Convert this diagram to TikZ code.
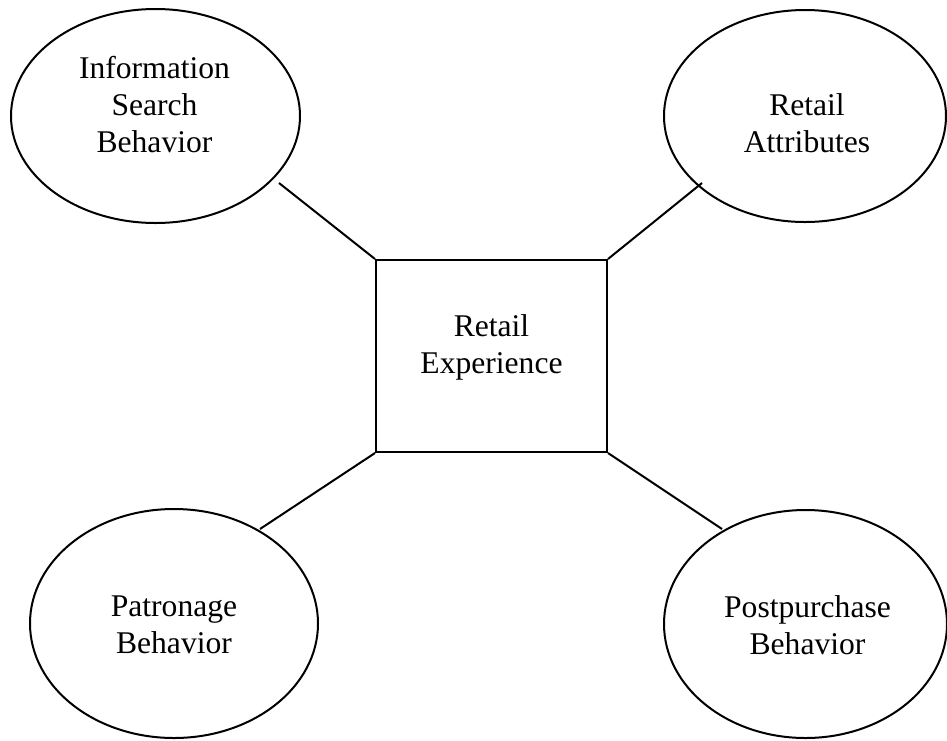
\documentclass[tikz,border=0pt]{standalone}
\usepackage{fontspec}
\setmainfont{Liberation Serif}
\usepackage{tikz}
\usetikzlibrary{shapes.geometric}
\tikzset{
  nodeoval/.style={draw, ellipse, line width=1pt, inner sep=0pt},
  nodebox/.style={draw, rectangle, line width=1pt, inner sep=0pt,
    minimum width=115.5pt, minimum height=96pt},
  nodetxt/.style={align=center, inner sep=0pt,
    font=\fontsize{15.8}{18.5}\selectfont},
  edgeln/.style={black, line width=1pt}
}

\begin{document}
\begin{tikzpicture}[x=0.5pt, y=-0.5pt]
\useasboundingbox (0,0) rectangle (947,740);
% shapes
\node[nodebox] (rex) at (491.5,356) {};
\node[nodeoval, minimum width=144.5pt, minimum height=107pt] (isb) at (155.5,116) {};
\node[nodeoval, minimum width=141pt, minimum height=106pt] (rat) at (805,116) {};
\node[nodeoval, minimum width=144pt, minimum height=114.5pt] (pat) at (174,623.5) {};
\node[nodeoval, minimum width=141.5pt, minimum height=114pt] (ppb) at (805.5,624) {};
% texts
\node[nodetxt] (rext) at (491.5,347.7) {Retail\\Experience};
\node[nodetxt] (isbt) at (154.5,105) {Information\\Search\\Behavior};
\node[nodetxt] (ratt) at (807,123) {Retail\\Attributes};
\node[nodetxt] (patt) at (174,624.7) {Patronage\\Behavior};
\node[nodetxt] (ppbt) at (807.5,625) {Postpurchase\\Behavior};
% free ends near the ovals
\coordinate (isbe) at (279,183);
\coordinate (rate) at (702,183);
\coordinate (pate) at (260,529);
\coordinate (ppbe) at (722,529);
\draw[edgeln] (isbe) -- (rex.north west);
\draw[edgeln] (rate) -- (rex.north east);
\draw[edgeln] (pate) -- (rex.south west);
\draw[edgeln] (ppbe) -- (rex.south east);
\end{tikzpicture}
\end{document}
